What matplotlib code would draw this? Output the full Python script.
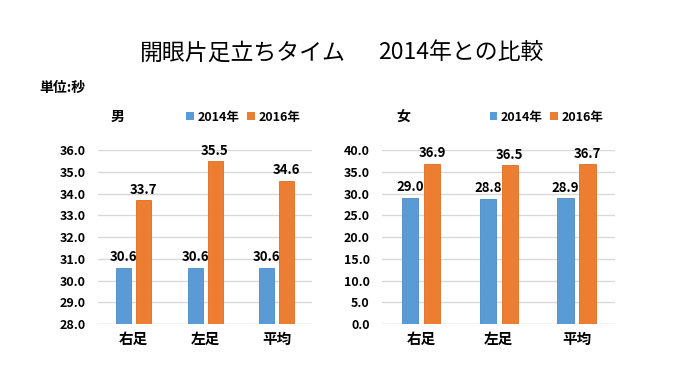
import matplotlib.pyplot as plt
import numpy as np

plt.rcParams['font.family'] = ['Noto Sans CJK JP', 'DejaVu Sans']

categories = ['右足', '左足', '平均']
series_names = ['2014年', '2016年']
male_2014 = [30.6, 30.6, 30.6]
male_2016 = [33.7, 35.5, 34.6]
female_2014 = [29.0, 28.8, 28.9]
female_2016 = [36.9, 36.5, 36.7]

BLUE = '#5B9BD5'
ORANGE = '#ED7D31'
GRID = '#D9D9D9'


def draw_panel(ax, v14, v16, ylim, step, title, legend_x):
    x = np.arange(len(categories))
    w = 0.21
    off = 0.14
    b1 = ax.bar(x - off, v14, w, color=BLUE, edgecolor='#4A8AC4', linewidth=0.6, zorder=3)
    b2 = ax.bar(x + off, v16, w, color=ORANGE, edgecolor='#DB6D22', linewidth=0.6, zorder=3)
    for bars, vals in ((b1, v14), (b2, v16)):
        for rect, v in zip(bars, vals):
            ax.text(rect.get_x() + rect.get_width() / 2, v + (ylim[1] - ylim[0]) * 0.02,
                    f'{v:.1f}', ha='center', va='bottom', fontsize=9.5,
                    fontweight='bold', color='#000000', zorder=4)
    ticks = np.arange(ylim[0], ylim[1] + step / 2, step)
    ax.set_ylim(*ylim)
    ax.set_xlim(-0.5, len(categories) - 0.5)
    ax.set_yticks(ticks)
    ax.set_yticklabels([f'{t:.1f}' for t in ticks], fontsize=9, fontweight='bold')
    ax.set_xticks(x)
    ax.set_xticklabels(categories, fontsize=10.5, fontweight='bold')
    ax.tick_params(axis='x', length=0, pad=5)
    ax.tick_params(axis='y', length=0, pad=9)
    ax.grid(axis='y', color=GRID, linewidth=1, zorder=0)
    for s in ax.spines.values():
        s.set_visible(False)
    ax.axhline(ylim[0], color=GRID, linewidth=1, zorder=1)
    ax.text(0.09, 1.19, title, transform=ax.transAxes, fontsize=10,
            fontweight='bold', ha='center', va='center')
    leg = ax.legend([b1, b2], series_names, ncol=2, loc='center left',
                    bbox_to_anchor=(legend_x, 1.19), frameon=False,
                    handlelength=0.6, handleheight=0.6, handletextpad=0.3,
                    columnspacing=0.6, borderaxespad=0,
                    prop={'size': 9, 'weight': 'bold'})
    for h in leg.legend_handles:
        h.set_edgecolor('none')


fig = plt.figure(figsize=(6.8, 3.83), dpi=100)
fig.patch.set_facecolor('white')

ax1 = fig.add_axes([0.144, 0.154, 0.315, 0.454])
ax2 = fig.add_axes([0.562, 0.154, 0.343, 0.454])

draw_panel(ax1, male_2014, male_2016, (28.0, 36.0), 1.0, '男', 0.39)
draw_panel(ax2, female_2014, female_2016, (0.0, 40.0), 5.0, '女', 0.44)

# main title, two parts with a gap between them
fig.text(0.508, 0.862, '開眼片足立ちタイム', ha='right', va='center', fontsize=16.5)
fig.text(0.556, 0.862, '2014年との比較', ha='left', va='center', fontsize=16.5)
fig.text(0.058, 0.77, '単位:秒', ha='left', va='center', fontsize=10, fontweight='bold')

fig.savefig('out.png', dpi=100, facecolor='white')
